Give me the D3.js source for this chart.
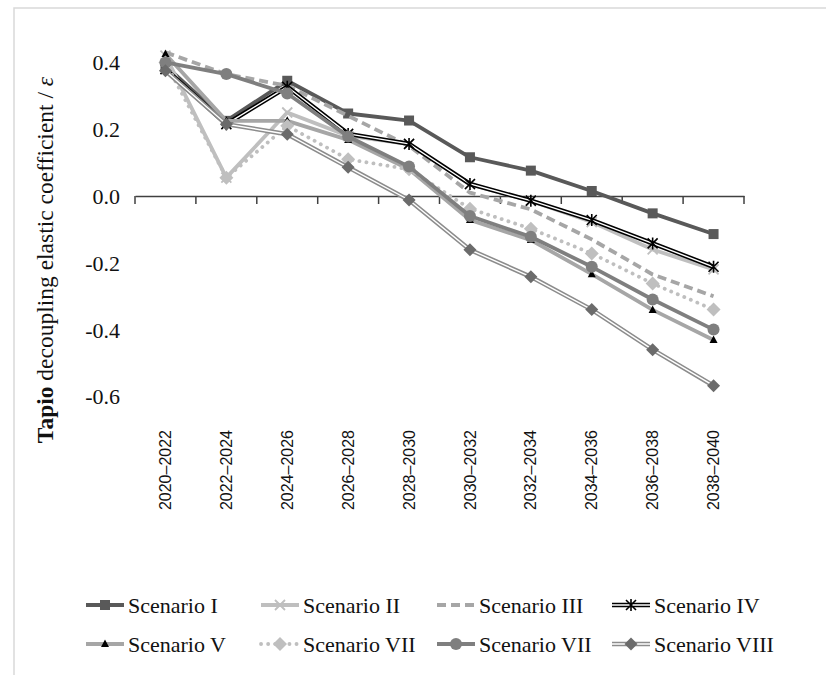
<!DOCTYPE html>
<html>
<head>
<meta charset="utf-8">
<script src="https://cdn.jsdelivr.net/npm/d3@7"></script>
<style>
  body { margin: 0; background: #fff; }
  svg { display: block; }
</style>
</head>
<body>
<div id="chart"></div>
<script>
// periods on the x axis
const categories = ["2020–2022", "2022–2024", "2024–2026", "2026–2028", "2028–2030",
  "2030–2032", "2032–2034", "2034–2036", "2036–2038", "2038–2040"];
const yTicks = [0.4, 0.2, 0.0, -0.2, -0.4, -0.6];

// values
const scenarioI = [0.39, 0.225, 0.345, 0.247, 0.226, 0.116, 0.076, 0.015, -0.052, -0.114];
const scenarioII = [0.42, 0.055, 0.25, 0.18, 0.155, 0.035, -0.015, -0.078, -0.16, -0.22];
const scenarioIII = [0.43, 0.365, 0.33, 0.24, 0.15, 0.01, -0.04, -0.13, -0.235, -0.30];
const scenarioIV = [0.38, 0.215, 0.327, 0.186, 0.156, 0.036, -0.014, -0.072, -0.142, -0.212];
const scenarioV = [0.425, 0.225, 0.225, 0.168, 0.08, -0.072, -0.132, -0.234, -0.341, -0.431];
const scenarioVIIa = [0.40, 0.055, 0.21, 0.11, 0.08, -0.038, -0.098, -0.172, -0.262, -0.34];
const scenarioVIIb = [0.40, 0.365, 0.307, 0.178, 0.088, -0.06, -0.122, -0.212, -0.31, -0.40];
const scenarioVIII = [0.375, 0.215, 0.185, 0.086, -0.012, -0.161, -0.242, -0.34, -0.46, -0.568];

const width = 826, height = 675;

const svg = d3.select("#chart").append("svg")
  .attr("width", width)
  .attr("height", height);

// outer frame
svg.append("rect")
  .attr("x", 14).attr("y", 8)
  .attr("width", 830).attr("height", 700)
  .attr("fill", "none")
  .attr("stroke", "#d9d9d9")
  .attr("stroke-width", 1.5);

const x = d3.scaleBand().domain(categories).range([135, 744]);
const y = d3.scaleLinear().domain([-0.6, 0.4]).range([396.4, 62.4]);
const cx = (d, i) => x(categories[i]) + x.bandwidth() / 2;

const serif = "'Liberation Serif', 'DejaVu Serif', serif";

// series styles
const series = [
  { name: "Scenario I", data: scenarioI, color: "#595959", marker: "square" },
  { name: "Scenario II", data: scenarioII, color: "#bfbfbf", marker: "x" },
  { name: "Scenario III", data: scenarioIII, color: "#a6a6a6", dash: "9,5", marker: null },
  { name: "Scenario IV", data: scenarioIV, color: "#000", double: "#fff", marker: "star" },
  { name: "Scenario V", data: scenarioV, color: "#a6a6a6", marker: "triangle" },
  { name: "Scenario VII", data: scenarioVIIa, color: "#bfbfbf", dash: "0.1,7", cap: "round", marker: "diamondLight" },
  { name: "Scenario VII", data: scenarioVIIb, color: "#7f7f7f", marker: "circle" },
  { name: "Scenario VIII", data: scenarioVIII, color: "#8c8c8c", double: "#fff", marker: "diamond" }
];

// x axis through zero
const xAxis = svg.append("g")
  .attr("transform", `translate(0,${y(0)})`)
  .call(d3.axisBottom(x).tickSize(0).tickFormat(""));
xAxis.select(".domain").attr("stroke", "#404040").attr("stroke-width", 1.5);
xAxis.selectAll(".tick").remove();
const edges = d3.range(categories.length + 1).map(i => 135 + i * x.step());
xAxis.selectAll("line.edge")
  .data(edges)
  .enter().append("line")
  .attr("class", "edge")
  .attr("x1", d => d).attr("x2", d => d)
  .attr("y1", 0).attr("y2", 8)
  .attr("stroke", "#404040")
  .attr("stroke-width", 1.5);

// category labels at the bottom
svg.append("g").selectAll("text")
  .data(categories)
  .enter().append("text")
  .attr("transform", (d, i) => `translate(${cx(d, i)},430) rotate(-90)`)
  .attr("dy", "0.35em")
  .attr("text-anchor", "end")
  .style("font-family", "'Liberation Sans', Arial, sans-serif")
  .style("font-size", "16px")
  .style("fill", "#111")
  .text(d => d);

// y tick labels, no axis line
const fmt = d3.format(".1f");
const yAxis = svg.append("g")
  .attr("transform", "translate(120,0)")
  .call(d3.axisLeft(y).tickValues(yTicks).tickSize(0).tickPadding(0)
    .tickFormat(d => fmt(d).replace("−", "-")));
yAxis.select(".domain").remove();
yAxis.selectAll("text")
  .style("font-family", serif)
  .style("font-size", "22px")
  .style("fill", "#111")
  .attr("dy", "0.34em");

// y axis title
const title = svg.append("text")
  .attr("transform", "translate(53,260) rotate(-90)")
  .attr("text-anchor", "middle")
  .style("font-family", serif)
  .style("font-size", "23.5px")
  .style("fill", "#111");
title.append("tspan").style("font-weight", "bold").text("Tapio");
title.append("tspan").text(" decoupling elastic coefficient / ");
title.append("tspan").style("font-style", "italic").text("ε");

// markers
function drawMarker(g, type, color, px, py) {
  if (type === "square") {
    g.append("rect").attr("x", px - 5).attr("y", py - 5).attr("width", 10).attr("height", 10).attr("fill", color);
  } else if (type === "x") {
    g.append("path").attr("d", `M${px - 5},${py - 5}L${px + 5},${py + 5}M${px - 5},${py + 5}L${px + 5},${py - 5}`)
      .attr("stroke", color).attr("stroke-width", 1.8);
  } else if (type === "star") {
    g.append("path").attr("d", `M${px - 5},${py - 5}L${px + 5},${py + 5}M${px - 5},${py + 5}L${px + 5},${py - 5}M${px},${py - 6}L${px},${py + 6}`)
      .attr("stroke", "#000").attr("stroke-width", 1.6);
  } else if (type === "triangle") {
    g.append("path").attr("d", `M${px},${py - 4.5}L${px + 4},${py + 3}L${px - 4},${py + 3}Z`).attr("fill", "#000");
  } else if (type === "diamondLight") {
    g.append("path").attr("d", `M${px},${py - 7}L${px + 7},${py}L${px},${py + 7}L${px - 7},${py}Z`).attr("fill", "#bfbfbf");
  } else if (type === "circle") {
    g.append("circle").attr("cx", px).attr("cy", py).attr("r", 6).attr("fill", color);
  } else if (type === "diamond") {
    g.append("path").attr("d", `M${px},${py - 6.5}L${px + 6.5},${py}L${px},${py + 6.5}L${px - 6.5},${py}Z`).attr("fill", "#6b6b6b");
  }
}

const line = d3.line().x((d, i) => cx(d, i)).y(d => y(d));

function drawStroke(g, s, pathFn) {
  if (s.double) {
    g.append("path").attr("d", pathFn).attr("fill", "none")
      .attr("stroke", s.color).attr("stroke-width", 4.5);
    g.append("path").attr("d", pathFn).attr("fill", "none")
      .attr("stroke", s.double).attr("stroke-width", 1.4);
  } else {
    g.append("path").attr("d", pathFn).attr("fill", "none")
      .attr("stroke", s.color).attr("stroke-width", 3.8)
      .attr("stroke-dasharray", s.dash || null)
      .attr("stroke-linecap", s.cap || "butt")
      .attr("stroke-linejoin", "round");
  }
}

// plot the series
series.forEach(s => {
  const g = svg.append("g");
  drawStroke(g, s, line(s.data));
  if (s.marker) s.data.forEach((d, i) => drawMarker(g, s.marker, s.color, cx(d, i), y(d)));
});

// legend
const legendCols = [86, 261, 437, 612];
const legendRows = [605, 644];
series.forEach((s, k) => {
  const lx = legendCols[k % 4], ly = legendRows[Math.floor(k / 4)];
  const g = svg.append("g");
  drawStroke(g, s, `M${lx},${ly}L${lx + 38},${ly}`);
  if (s.marker) drawMarker(g, s.marker, s.color, lx + 19, ly);
  g.append("text")
    .attr("x", lx + 42).attr("y", ly + 8)
    .style("font-family", serif)
    .style("font-size", "22px")
    .style("fill", "#111")
    .text(s.name);
});
</script>
</body>
</html>
